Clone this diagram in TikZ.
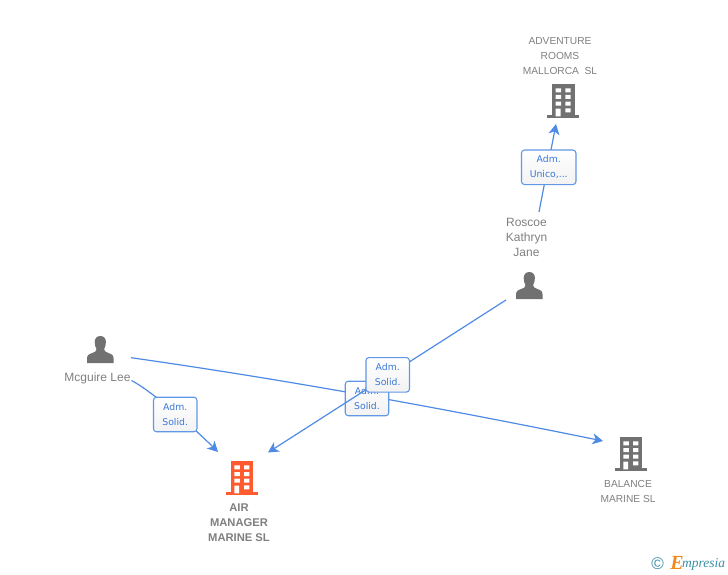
\documentclass[tikz,border=0pt]{standalone}
\usepackage{fontspec}
\setmainfont{Liberation Sans}
\newfontfamily\boxfont{DejaVu Sans}
\newfontfamily\logofont{Liberation Serif}
\usetikzlibrary{arrows.meta}
\definecolor{linkblue}{HTML}{4F8BE4}
\definecolor{boxtext}{HTML}{3A78D8}
\definecolor{iconGray}{HTML}{717171}
\definecolor{txtGray}{HTML}{7F7F7F}
\definecolor{airRed}{HTML}{FF5B2E}
\definecolor{logoBlue}{HTML}{3A8EA8}
\definecolor{logoOrange}{HTML}{F08A1D}
\newcommand{\boxlines}[2]{\vspace*{2pt}#1\\#2}
\tikzset{
  link/.style={draw=linkblue,line width=1.2pt},
  arrowed/.style={link,-{Stealth[length=10.5pt,width=11pt,inset=3pt]}},
  rolebox/.style={draw=linkblue!90,line width=1.1pt,rounded corners=3pt,top color=white,bottom color=black!5,
    minimum width=43.5pt,minimum height=34.5pt,inner sep=0pt,align=center,text=boxtext,
    font=\boxfont\fontsize{9.3}{15}\selectfont},
  lbl/.style={align=center,text=txtGray,inner sep=0pt,font=\fontsize{10.2}{15}\selectfont},
  lblmixed/.style={align=center,text=txtGray,inner sep=0pt,font=\fontsize{12}{15}\selectfont},
  lblbold/.style={align=center,text=txtGray,inner sep=0pt,font=\bfseries\fontsize{11.2}{15}\selectfont},
  pics/building/.style={code={
    \fill[#1] (0,0) rectangle (22.2,32);
    \fill[#1] (-5,31) rectangle (26.7,33.7);
    \fill[white] (3.4,4) rectangle (8.8,8) (13,4) rectangle (18.4,8)
      (3.4,10.7) rectangle (8.8,14.7) (13,10.7) rectangle (18.4,14.7)
      (3.4,17.4) rectangle (8.8,21.4) (13,17.4) rectangle (18.4,21.4)
      (3.4,24.4) rectangle (8.2,32) (13,24) rectangle (18.4,28);
  }},
  pics/person/.style={code={
    \fill[iconGray] (0,0) .. controls (-3.8,0) and (-5.6,2.8) .. (-5.6,6)
      .. controls (-5.6,9) and (-4.8,11.5) .. (-3.8,13)
      .. controls (-3.8,15) and (-5,16) .. (-8,17)
      .. controls (-12,18.2) and (-13.3,19.5) .. (-13.3,23)
      -- (-13.3,27) -- (13.3,27) -- (13.3,23)
      .. controls (13.3,19.5) and (12,18.2) .. (8,17)
      .. controls (5,16) and (3.8,15) .. (3.8,13)
      .. controls (4.8,11.5) and (5.6,9) .. (5.6,6)
      .. controls (5.6,2.8) and (3.8,0) .. (0,0) -- cycle;
  }},
}
\begin{document}
\begin{tikzpicture}[x=1pt,y=-1pt]
\useasboundingbox (0,0) rectangle (728,575);
% free connector ends
\coordinate (roscoeUp) at (539,212);
\coordinate (advIn) at (556,124);
\coordinate (mcgLow) at (131.5,380.5);
\coordinate (airInL) at (218,452);
\coordinate (mcgHigh) at (131,357.7);
\coordinate (balIn) at (603,441);
\coordinate (roscoeLow) at (506,300);
\coordinate (airInR) at (268,452.5);
% icons
\pic at (552.3,84.3) {building=iconGray};
\pic at (231,461.3) {building=airRed};
\pic at (620,437.3) {building=iconGray};
\pic at (529.3,272) {person};
\pic at (100.3,336) {person};
% labels
\node[lbl] (advname) at (560,56.5) {ADVENTURE\\ROOMS\\MALLORCA\ \ SL};
\node[lblmixed] (roscoe) at (526.5,237.5) {Roscoe\\Kathryn\\Jane};
\node[lblmixed] (mcguire) at (97.5,378) {Mcguire Lee};
\node[lblbold] (airname) at (239,523) {AIR\\MANAGER\\MARINE SL};
\node[lbl] (balname) at (628,491.5) {BALANCE\\MARINE SL};
% connectors and role boxes
\draw[arrowed] (roscoeUp) -- (advIn);
\node[rolebox,minimum width=54.5pt] (boxUnico) at (548.7,167.3) {\boxlines{Adm.}{Unico,...}};
\draw[arrowed] (mcgLow) .. controls (150,390) and (192,426) .. (airInL);
\node[rolebox] (boxMcg) at (175.2,414.5) {\boxlines{Adm.}{Solid.}};
\draw[arrowed] (mcgHigh) .. controls (288,380) and (446,409) .. (balIn);
\node[rolebox] (boxBack) at (367,398.5) {\boxlines{Adm.}{Solid.}};
\draw[arrowed] (roscoeLow) -- (airInR);
\node[rolebox] (boxFront) at (387.7,374.8) {\boxlines{Adm.}{Solid.}};
% logo
\node[text=logoBlue,inner sep=0pt,font=\fontsize{17}{17}\selectfont] (copyr) at (657.7,564) {©};
\node[text=logoOrange,inner sep=0pt,font=\logofont\bfseries\itshape\fontsize{20}{20}\selectfont] (logoE) at (677,563) {E};
\node[text=logoBlue,inner sep=0pt,anchor=west,font=\logofont\itshape\fontsize{13.5}{13.5}\selectfont] (logoTxt) at (682,564) {mpresia};
\end{tikzpicture}
\end{document}
